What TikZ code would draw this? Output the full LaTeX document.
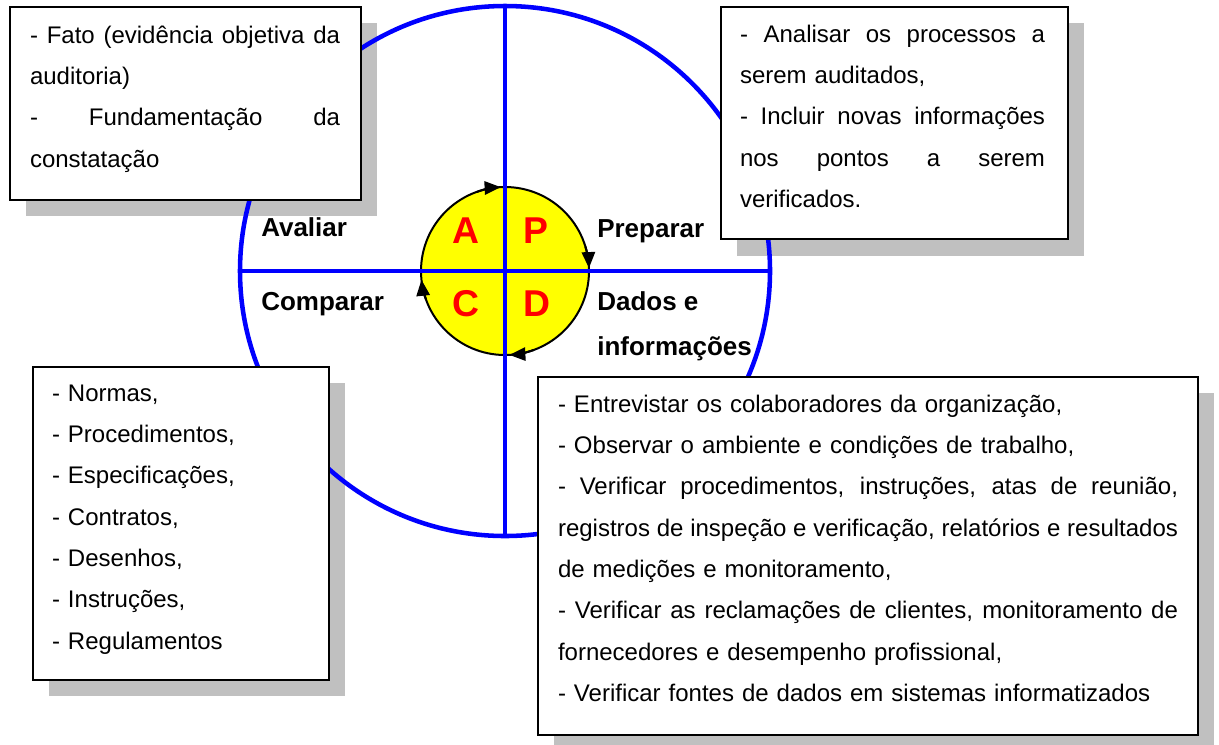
\documentclass[tikz,border=0pt]{standalone}
\usepackage{fontspec}
\setmainfont{Liberation Sans}
\usetikzlibrary{arrows.meta}
\definecolor{shadowgray}{RGB}{192,192,192}
\definecolor{pdcablue}{RGB}{0,0,255}
\definecolor{pdcared}{RGB}{255,0,0}
\definecolor{pdcayellow}{RGB}{255,255,0}
\newcommand{\jline}[2]{\makebox[#1][s]{\spaceskip=0pt\xspaceskip=0pt\relax #2}}
\begin{document}
\begin{tikzpicture}[x=0.75pt,y=-0.75pt,
  bigline/.style={draw=pdcablue,line width=3.4pt},
  textbox/.style={fill=white,draw=black,line width=1.5pt},
  boxtext/.style={anchor=base west,inner sep=0pt,outer sep=0pt,align=left,
    font=\fontsize{18}{31}\selectfont},
  phase/.style={anchor=base west,inner sep=0pt,align=left,
    font=\bfseries\fontsize{19.5}{33.75}\selectfont},
  letter/.style={text=pdcared,inner sep=0pt,font=\bfseries\fontsize{28}{30}\selectfont},
  cyclearrow/.style={draw=black,line width=1.5pt,-{Triangle[length=12pt,width=10pt]}}
]
\useasboundingbox (0,0) rectangle (1219,744);

% shadows
\fill[shadowgray] (26,23) rectangle (377,216);
\fill[shadowgray] (737,23) rectangle (1084,256);
\fill[shadowgray] (49,383) rectangle (345,696);
\fill[shadowgray] (554,393) rectangle (1214,751);

% big circle and axes
\coordinate (O) at (505,271);
\coordinate (W) at (240,271);
\coordinate (E) at (770,271);
\coordinate (N) at (505,6);
\coordinate (S) at (505,536);
\draw[bigline] (O) circle[radius=265];

% inner PDCA circle
\node[circle,fill=pdcayellow,draw=black,line width=1.5pt,minimum size=126pt,
      inner sep=0pt,outer sep=0pt] (pdca) at (O) {};
\draw[bigline] (W) -- (E);
\draw[bigline] (N) -- (S);

% cycle arrows (clockwise)
\draw[cyclearrow] (pdca.110) arc[start angle=110,end angle=93,radius=63pt];
\draw[cyclearrow] (pdca.17) arc[start angle=17,end angle=2,radius=63pt];
\draw[cyclearrow] (pdca.-70) arc[start angle=-70,end angle=-87,radius=63pt];
\draw[cyclearrow] (pdca.200) arc[start angle=200,end angle=186,radius=63pt];

% letters
\node[letter] (lA) at (466,231) {A};
\node[letter] (lP) at (536,231) {P};
\node[letter] (lC) at (466,304) {C};
\node[letter] (lD) at (537,304) {D};

% phase labels
\node[phase] (avaliar) at (261,236) {Avaliar};
\node[phase] (preparar) at (597,237) {Preparar};
\node[phase] (comparar) at (261,310) {Comparar};
\node[phase] (dados) at (597,355) {Dados e\\informações};

% boxes
\draw[textbox] (10,7) rectangle (361,200);
\node[boxtext,text width=232.5pt] (t1) at (30,43) {%
\jline{232.5pt}{- Fato (evidência objetiva da}\\
auditoria)\\
\jline{232.5pt}{- Fundamentação da}\\
constatação};

\draw[textbox] (721,7) rectangle (1068,239);
\node[boxtext,text width=228.75pt] (t2) at (740,42) {%
\jline{228.75pt}{- Analisar os processos a}\\
serem auditados,\\
\jline{228.75pt}{- Incluir novas informações}\\
\jline{228.75pt}{nos pontos a serem}\\
verificados.};

\draw[textbox] (33,367) rectangle (329,680);
\node[boxtext,text width=200pt] (t3) at (52,401) {%
- Normas,\\
- Procedimentos,\\
- Especificações,\\
- Contratos,\\
- Desenhos,\\
- Instruções,\\
- Regulamentos};

\draw[textbox] (538,377) rectangle (1198,735);
\node[boxtext,text width=465pt] (t4) at (558,412) {%
- Entrevistar os colaboradores da organização,\\
- Observar o ambiente e condições de trabalho,\\
\jline{465pt}{- Verificar procedimentos, instruções, atas de reunião,}\\
\jline{465pt}{registros de inspeção e verificação, relatórios e resultados}\\
de medições e monitoramento,\\
\jline{465pt}{- Verificar as reclamações de clientes, monitoramento de}\\
fornecedores e desempenho profissional,\\
- Verificar fontes de dados em sistemas informatizados};
\end{tikzpicture}
\end{document}
